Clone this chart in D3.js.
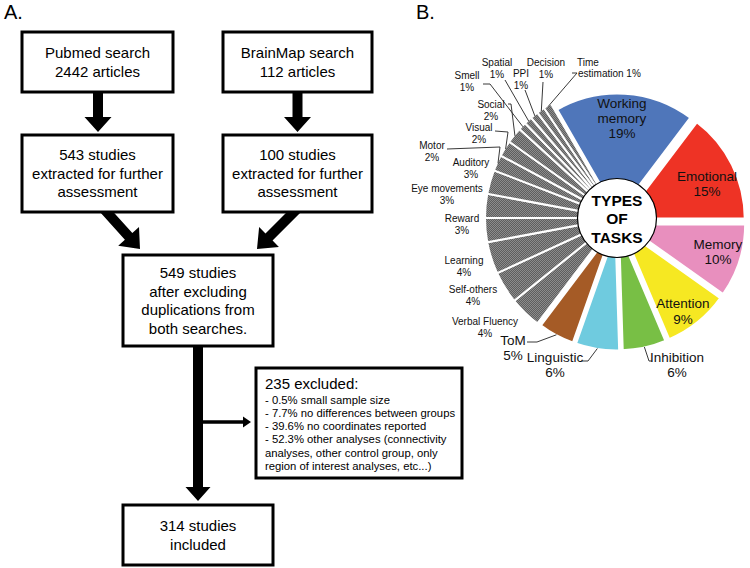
<!DOCTYPE html>
<html><head><meta charset="utf-8">
<script src="https://cdn.jsdelivr.net/npm/d3@7"></script>
<style>body{margin:0;background:#fff}svg{display:block;font-family:"Liberation Sans",Arial,sans-serif}</style>
</head><body><svg id="c" width="750" height="568"></svg>
<script>
// ---------- DATA ----------
const taskNames = ["Working memory","Emotional","Memory","Attention","Inhibition","Linguistic","ToM",
  "Verbal Fluency","Self-others","Learning","Reward","Eye movements","Auditory","Motor","Visual","Social",
  "Smell","Spatial","PPI","Decision","Time estimation"];
const taskValues = [19,15,10,9,6,6,5,4,4,4,3,3,3,2,2,2,1,1,1,1,1];
const taskLabelLines = [["Working","memory","19%"],["Emotional","15%"],["Memory","10%"],["Attention","9%"],
  ["Inhibition","6%"],["Linguistic","6%"],["ToM","5%"],["Verbal Fluency","4%"],["Self-others","4%"],
  ["Learning","4%"],["Reward","3%"],["Eye movements","3%"],["Auditory","3%"],["Motor","2%"],["Visual","2%"],
  ["Social","2%"],["Smell","1%"],["Spatial","1%"],["PPI","1%"],["Decision","1%"],["Time","estimation 1%"]];
const centerLabel = ["TYPES","OF","TASKS"];
const flowTexts = [
  ["Pubmed search","2442 articles"],
  ["BrainMap search","112 articles"],
  ["543 studies","extracted for further","assessment"],
  ["100 studies","extracted for further","assessment"],
  ["549 studies","after excluding","duplications from","both searches."],
  ["314 studies","included"]];
const excludedTitle = "235 excluded:";
const excludedLines = ["- 0.5% small sample size","- 7.7% no differences between groups",
  "- 39.6% no coordinates reported","- 52.3% other analyses (connectivity",
  "analyses, other control group, only","region of interest analyses, etc...)"];
const panelLabels = ["A.","B."];

// ---------- LAYOUT / STYLE ----------
const sliceColors = ["#4f76ba","#ee3325","#e88fbe","#f6e822","#78bf45","#6fcbdf","#a55b26"];
const boxes = [[22,32,151,60],[223,32,149,60],[22,135,151,77],[223,135,149,77],[123,255,150,91],[123,505,150,60]];
const exclBox = [256,368,206,110];
const cx = 617, cyGray = 218, cyCol = 222, Rgray = 132, Rcol = 122, explode = 7;
// label anchors [x, firstBaseline, lineHeight, anchor]
const labelPos = [[622,108,15,"middle"],[707,181,15,"middle"],[718,249,15,"middle"],[683,308,16,"middle"],
  [677,362,15,"middle"],[555,362,15,"middle"],[513,345,15,"middle"],
  [485,325,11.5,"middle"],[473,293,11.5,"middle"],[464,264,11.5,"middle"],[462,222,11.5,"middle"],
  [447,192,11.5,"middle"],[471,166,11.5,"middle"],[432,149,11.5,"middle"],[479,131,11.5,"middle"],
  [491,108,11.5,"middle"],[467,79,11.5,"middle"],[497,66,11.5,"middle"],[521,77,11.5,"middle"],
  [546,66,11.5,"middle"],[577,66,10.5,"start"]];
// leader polyline starting points (end is computed on the arc)
const leaders = {4:[[652,361],[649,361]],5:[[582,361],[588,361]],6:[[527,342],[537,342]],
  13:[[447,149],[500,147]],14:[[495,131],[508,132]],15:[[508,104],[511,104]],16:[[483,84],[490,84]],
  17:[[505,80]],18:[[525,90]],19:[[543,82]],20:[[572,73],[577,73]]};

const svg = d3.select("#c");
const defs = svg.append("defs");
const pat = defs.append("pattern").attr("id","chk").attr("width",2).attr("height",2).attr("patternUnits","userSpaceOnUse");
pat.append("rect").attr("width",2).attr("height",2).attr("fill","#8c8c8c");
pat.append("rect").attr("width",1).attr("height",1).attr("fill","#5e5e5e");
pat.append("rect").attr("x",1).attr("y",1).attr("width",1).attr("height",1).attr("fill","#5e5e5e");

// ---------- PANEL A: flow chart ----------
const gA = svg.append("g");
gA.append("text").attr("x",4).attr("y",19).attr("font-size",20).text(panelLabels[0]);
svg.append("text").attr("x",416).attr("y",19).attr("font-size",20).text(panelLabels[1]);

function arrowPts(x1,y1,x2,y2,sw,hw,hl){
  const dx=x2-x1, dy=y2-y1, L=Math.hypot(dx,dy), ux=dx/L, uy=dy/L, nx=-uy, ny=ux;
  const bx=x2-ux*hl, by=y2-uy*hl;
  return [[x1+nx*sw/2,y1+ny*sw/2],[bx+nx*sw/2,by+ny*sw/2],[bx+nx*hw/2,by+ny*hw/2],[x2,y2],
          [bx-nx*hw/2,by-ny*hw/2],[bx-nx*sw/2,by-ny*sw/2],[x1-nx*sw/2,y1-ny*sw/2]];
}
const line = d3.line();
const arrows = [
  arrowPts(98,90,98,132,10,27,15),
  arrowPts(297.5,90,297.5,132,10,27,15),
  arrowPts(103,208,140,249,10,28,17),
  arrowPts(298,208,257,249,10,28,17),
  arrowPts(198,344,198,501,10,25,14),
  arrowPts(200,422,251,422,3.5,11,8)
];
gA.selectAll("path.arr").data(arrows).join("path").attr("class","arr")
  .attr("d",d=>line(d)+"Z").attr("fill","#000");

gA.selectAll("rect.box").data(boxes).join("rect").attr("class","box")
  .attr("x",d=>d[0]).attr("y",d=>d[1]).attr("width",d=>d[2]).attr("height",d=>d[3])
  .attr("fill","#fff").attr("stroke","#000").attr("stroke-width",3);
boxes.forEach((b,i)=>{
  const lines = flowTexts[i], lh = 18.5;
  const mid = b[1]+b[3]/2, y0 = mid - (lines.length-1)*lh/2 + 5.3;
  const t = gA.append("text").attr("text-anchor","middle").attr("font-size",15);
  lines.forEach((s,k)=>t.append("tspan").attr("x",b[0]+b[2]/2).attr("y",y0+k*lh).text(s));
});
gA.append("rect").attr("x",exclBox[0]).attr("y",exclBox[1]).attr("width",exclBox[2]).attr("height",exclBox[3])
  .attr("fill","#fff").attr("stroke","#000").attr("stroke-width",3);
gA.append("text").attr("x",265).attr("y",389).attr("font-size",15).text(excludedTitle);
const te = gA.append("text").attr("font-size",11.3);
excludedLines.forEach((s,k)=>te.append("tspan").attr("x",265).attr("y",403.5+k*13.3).text(s));

// ---------- PANEL B: pie ----------
const data = taskNames.map((n,i)=>({name:n,v:taskValues[i],i}));
const pie = d3.pie().sort(null).value(d=>d.v).startAngle(-30*Math.PI/180).endAngle(330*Math.PI/180);
const arcs = pie(data);
const color = d3.scaleOrdinal().domain(taskNames.slice(0,7)).range(sliceColors).unknown("url(#chk)");
const arcGray = d3.arc().innerRadius(0).outerRadius(Rgray);
const arcCol = d3.arc().innerRadius(0).outerRadius(Rcol);
const isColored = d=>d.data.i<7;

const gG = svg.append("g").attr("transform",`translate(${cx},${cyGray})`);
gG.selectAll("path.gray").data(arcs.filter(d=>!isColored(d))).join("path").attr("class","gray")
  .attr("d",arcGray).attr("fill",d=>color(d.data.name)).attr("stroke","#fff").attr("stroke-width",2);
const gC = svg.append("g").attr("transform",`translate(${cx},${cyCol})`);
gC.selectAll("path.col").data(arcs.filter(isColored)).join("path").attr("class","col")
  .attr("transform",d=>{const a=(d.startAngle+d.endAngle)/2;return `translate(${explode*Math.sin(a)},${-explode*Math.cos(a)})`;})
  .attr("d",arcCol).attr("fill",d=>color(d.data.name)).attr("stroke","#fff").attr("stroke-width",3).attr("stroke-linejoin","round");

const gCirc = svg.append("g").attr("transform",`translate(${cx},${cyGray})`);
gCirc.append("circle").attr("r",39.5).attr("fill","#fff").attr("stroke","#000").attr("stroke-width",1.2);
const tc = gCirc.append("text").attr("text-anchor","middle").attr("font-size",15.5).attr("font-weight","bold");
centerLabel.forEach((s,k)=>tc.append("tspan").attr("x",0).attr("y",-12.5+k*18.5).text(s));

// leaders
const gL = svg.append("g");
arcs.forEach(d=>{
  const L = leaders[d.data.i]; if(!L) return;
  const a=(d.startAngle+d.endAngle)/2;
  const col = isColored(d);
  const rr = col ? Rcol+explode-1 : Rgray-1;
  const cy = col ? cyCol : cyGray;
  const end=[cx+rr*Math.sin(a), cy-rr*Math.cos(a)];
  gL.append("path").attr("d",d3.line()(L.concat([end]))).attr("fill","none").attr("stroke","#222").attr("stroke-width",0.9);
});

// labels
const gT = svg.append("g");
arcs.forEach(d=>{
  const i=d.data.i, p=labelPos[i], lines=taskLabelLines[i];
  const fs = i<7 ? 13.5 : 10;
  const t = gT.append("text").attr("font-size",fs).attr("fill","#111").attr("text-anchor",p[3]);
  lines.forEach((s,k)=>{
    const x = (i===20 && k===1) ? p[0]+1 : p[0];
    t.append("tspan").attr("x",x).attr("y",p[1]+k*p[2]).text(s);
  });
});
</script></body></html>
